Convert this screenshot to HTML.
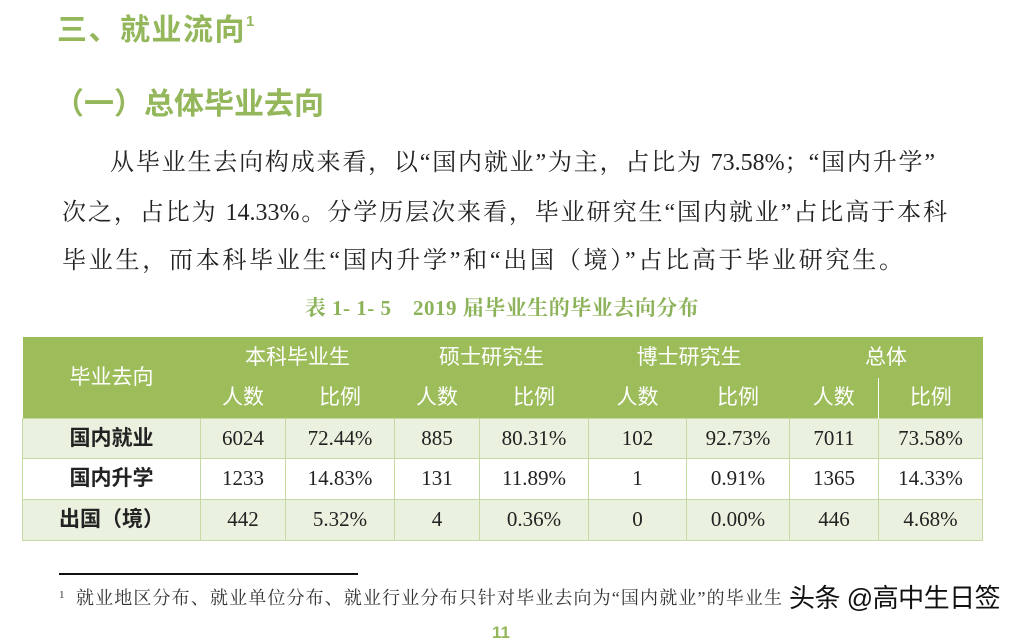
<!DOCTYPE html>
<html>
<head>
<meta charset="utf-8">
<style>
  html, body { margin:0; padding:0; }
  body { width:1019px; height:630px; overflow:hidden; background:#fff; position:relative;
         font-family:"Liberation Serif","Noto Serif CJK SC",serif; color:#222; }
  .abs { position:absolute; white-space:nowrap; }
  .h1 { left:57px; top:16px; font:bold 30px/30px "Liberation Sans","Noto Sans CJK SC",sans-serif; color:#93b75a; letter-spacing:1.5px; }
  .h1 sup { font-size:15px; position:relative; top:-14px; vertical-align:baseline; letter-spacing:0; }
  .h2 { left:54px; top:90px; font:bold 30px/30px "Liberation Sans","Noto Sans CJK SC",sans-serif; color:#93b75a; }
  .p { font:24px/24px "Liberation Serif","Noto Serif CJK SC",serif; color:#222; text-align:justify; text-align-last:justify; white-space:normal; overflow:visible; height:24px; }
  .cap { left:252px; width:500px; top:298px; text-align:center; font:bold 21px/21px "Liberation Serif","Noto Serif CJK SC",serif; color:#8db35a; letter-spacing:0.5px; }
  table { position:absolute; left:22px; top:337px; width:960px; border-collapse:collapse; table-layout:fixed; }
  td { padding:0; text-align:center; vertical-align:middle; }
  .hd td { background:#9dbc5a; color:#fff; font:21px/21px "Liberation Sans","Noto Sans CJK SC",sans-serif; }
  .bd td { border:1.5px solid #c6d9a3; font:21px/21px "Liberation Serif","Noto Serif CJK SC",serif; color:#222; }
  .bd td.f { font:bold 21px/21px "Liberation Sans","Noto Sans CJK SC",sans-serif; color:#222; }
  .g td { background:#ebf1df; }
  .w td { background:#fff; }
  .fl { left:59px; top:573px; width:299px; height:2px; background:#111; }
  .fn { left:76px; top:589px; width:706px; font:18px/18px "Liberation Serif","Noto Serif CJK SC",serif; color:#333; text-align:justify; text-align-last:justify; white-space:normal; height:18px; }
  .fs { left:59px; top:590px; font:11px/11px "Liberation Serif",serif; color:#333; }
  .wm { left:789px; top:584px; font:26px/28px "Liberation Sans","Noto Sans CJK SC",sans-serif; color:#111; letter-spacing:-0.5px;
        text-shadow: 1px 0 #fff, -1px 0 #fff, 0 1px #fff, 0 -1px #fff, 1px 1px #fff, -1px -1px #fff, 1px -1px #fff, -1px 1px #fff; }
  .pg { left:492px; top:624px; font:bold 17px/17px "Liberation Sans",sans-serif; color:#93b75a; }
</style>
</head>
<body>
  <div class="abs h1">三、就业流向<sup>1</sup></div>
  <div class="abs h2">（一）总体毕业去向</div>

  <div class="abs p" style="left:110px; top:151px; width:825px;">从毕业生去向构成来看，以“国内就业”为主，占比为 73.58%；“国内升学”</div>
  <div class="abs p" style="left:62px; top:201px; width:885px;">次之，占比为 14.33%。分学历层次来看，毕业研究生“国内就业”占比高于本科</div>
  <div class="abs p" style="left:62px; top:249px; width:841px;">毕业生，而本科毕业生“国内升学”和“出国（境）”占比高于毕业研究生。</div>

  <div class="abs cap">表 1- 1- 5　2019 届毕业生的毕业去向分布</div>

  <table>
    <colgroup>
      <col style="width:178px"><col style="width:85px"><col style="width:109px"><col style="width:85px"><col style="width:109px">
      <col style="width:98px"><col style="width:103px"><col style="width:89px"><col style="width:104px">
    </colgroup>
    <tr class="hd" style="height:41px;">
      <td rowspan="2">毕业去向</td>
      <td colspan="2">本科毕业生</td>
      <td colspan="2">硕士研究生</td>
      <td colspan="2">博士研究生</td>
      <td colspan="2">总体</td>
    </tr>
    <tr class="hd" style="height:40px;">
      <td>人数</td><td>比例</td><td>人数</td><td>比例</td><td>人数</td><td>比例</td>
      <td style="border-right:1.5px solid #fff;">人数</td><td>比例</td>
    </tr>
    <tr class="bd g" style="height:40px;">
      <td class="f">国内就业</td><td>6024</td><td>72.44%</td><td>885</td><td>80.31%</td><td>102</td><td>92.73%</td><td>7011</td><td>73.58%</td>
    </tr>
    <tr class="bd w" style="height:41px;">
      <td class="f">国内升学</td><td>1233</td><td>14.83%</td><td>131</td><td>11.89%</td><td>1</td><td>0.91%</td><td>1365</td><td>14.33%</td>
    </tr>
    <tr class="bd g" style="height:41px;">
      <td class="f">出国（境）</td><td>442</td><td>5.32%</td><td>4</td><td>0.36%</td><td>0</td><td>0.00%</td><td>446</td><td>4.68%</td>
    </tr>
  </table>

  <div class="abs fl"></div>
  <div class="abs fs">1</div>
  <div class="abs fn">就业地区分布、就业单位分布、就业行业分布只针对毕业去向为“国内就业”的毕业生</div>
  <div class="abs wm">头条 @高中生日签</div>
  <div class="abs pg">11</div>
</body>
</html>
